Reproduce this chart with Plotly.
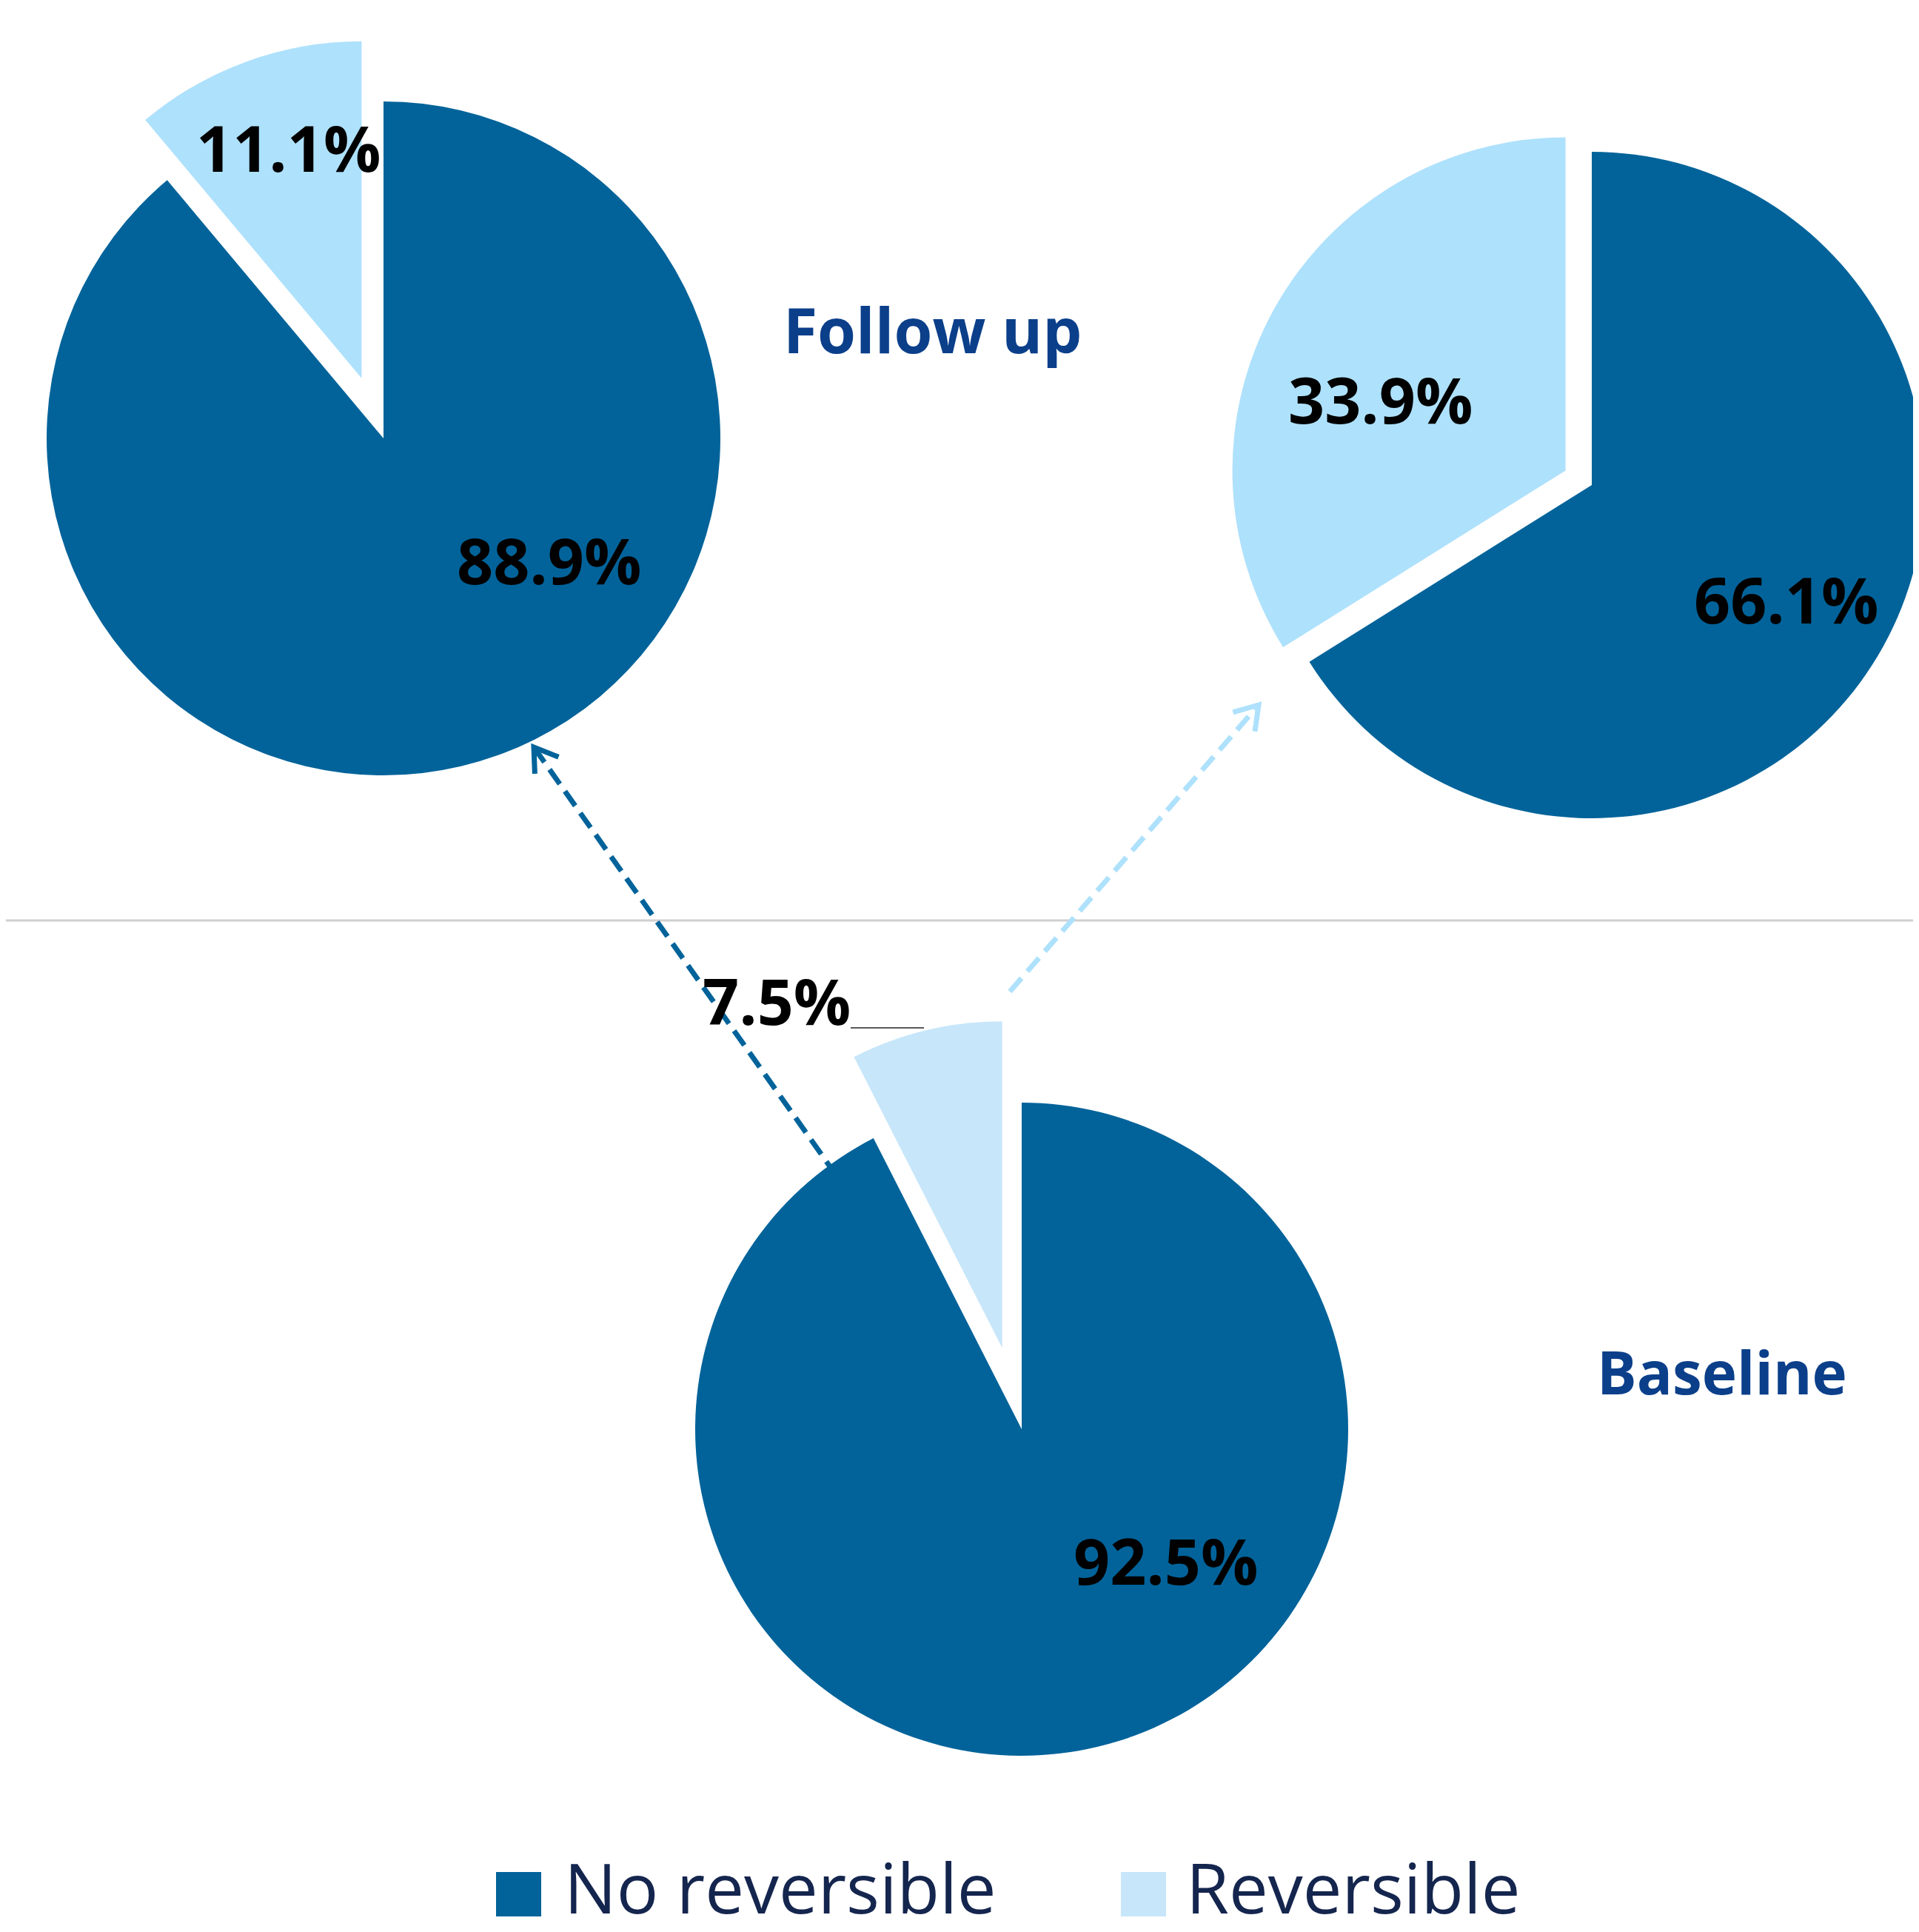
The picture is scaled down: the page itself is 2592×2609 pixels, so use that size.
import math
import plotly.graph_objects as go

# ---------------- data ----------------
labels = ["No reversible", "Reversible"]
baseline_values = [92.5, 7.5]
followup_from_noreversible = [88.9, 11.1]
followup_from_reversible = [66.1, 33.9]
panel_titles = ["Follow up", "Baseline"]

# ---------------- layout constants (pixels) ----------------
W, H = 2592, 2609
DARK = "#02639a"
LIGHT_FU = "#aee1fc"
LIGHT_BL = "#c7e6fa"
CLEAR = "rgba(0,0,0,0)"
TITLE_C = "#0b3f8a"
LEG_C = "#14254e"
PCT_FONT = dict(family="Open Sans", size=86, color="black", weight="bold")


def X(p):
    return p / W


def Y(p):
    return 1 - p / H


def domain(cx, cy, r):
    return dict(x=[max(0.0, X(cx - r)), min(1.0, X(cx + r))],
                y=[max(0.0, Y(cy + r)), min(1.0, Y(cy - r))])


# (values, (cx, cy, r, pull of reversible slice), light colour, label centres)
pies = [
    (followup_from_noreversible, (510, 584, 455, 0.19), LIGHT_FU,
     [(734, 748), (382, 190)]),
    (followup_from_reversible, (2142, 647, 450, 0.09), LIGHT_FU,
     [(2405, 800), (1857, 530)]),
    (baseline_values, (1372, 1922, 441, 0.256), LIGHT_BL,
     [(1567, 2098), (1041, 1342)]),
]

fig = go.Figure()
annotations = []
for values, (cx, cy, r, pull), light, lab_pos in pies:
    # main pie: the non-reversible slice stays in place
    fig.add_trace(go.Pie(
        labels=labels, values=values, sort=False, direction="clockwise",
        rotation=0, textinfo="none", hoverinfo="label+percent",
        marker=dict(colors=[DARK, CLEAR], line=dict(width=0)),
        domain=domain(cx, cy, r), showlegend=False,
    ))
    # exploded reversible slice: same pie shifted along the slice bisector
    f = values[1] / sum(values)
    off = pull * r
    lcx = cx - off * math.sin(math.pi * f)
    lcy = cy - off * math.cos(math.pi * f)
    fig.add_trace(go.Pie(
        labels=labels, values=values, sort=False, direction="clockwise",
        rotation=0, textinfo="none", hoverinfo="label+percent",
        marker=dict(colors=[CLEAR, light], line=dict(width=0)),
        domain=domain(lcx, lcy, r), showlegend=False,
    ))
    for v, (lx, ly) in zip(values, lab_pos):
        annotations.append(dict(
            x=X(lx), y=Y(ly), xref="paper", yref="paper", showarrow=False,
            text=f"{v:.1f}%", font=PCT_FONT, xanchor="center", yanchor="middle"))

# panel titles
annotations.append(dict(x=X(1251), y=Y(437), xref="paper", yref="paper", showarrow=False,
                        text=panel_titles[0], xanchor="center", yanchor="middle",
                        font=dict(family="Open Sans", size=84, color=TITLE_C, weight="bold")))
annotations.append(dict(x=X(2318), y=Y(1843), xref="paper", yref="paper", showarrow=False,
                        text=panel_titles[1], xanchor="center", yanchor="middle",
                        font=dict(family="Open Sans", size=80, color=TITLE_C, weight="bold")))

# custom legend (large squares)
legend_items = [(labels[0], DARK, 662, 752), (labels[1], LIGHT_BL, 1506, 1592)]
shapes = []
for name, col, sx, tx in legend_items:
    shapes.append(dict(type="rect", xref="paper", yref="paper",
                       x0=X(sx), x1=X(sx + 61), y0=Y(2580), y1=Y(2520),
                       fillcolor=col, line=dict(width=0), layer="above"))
    annotations.append(dict(x=X(tx), y=Y(2540), xref="paper", yref="paper", showarrow=False,
                            text=name, xanchor="left", yanchor="middle",
                            font=dict(family="Open Sans", size=94, color=LEG_C)))

# separator line
shapes.append(dict(type="line", xref="paper", yref="paper", x0=0, x1=1,
                   y0=Y(1235), y1=Y(1235), line=dict(color="#d0d0d0", width=3), layer="below"))

# leader line for the small baseline slice
shapes.append(dict(type="line", xref="paper", yref="paper", x0=X(1141), x1=X(1240),
                   y0=Y(1380), y1=Y(1380), line=dict(color="#595959", width=2), layer="above"))


def dashed_arrow(tail, tip, color):
    out = [dict(type="line", xref="paper", yref="paper",
                x0=X(tail[0]), y0=Y(tail[1]), x1=X(tip[0]), y1=Y(tip[1]),
                line=dict(color=color, width=7, dash="24px,12px"), layer="below")]
    dx, dy = tail[0] - tip[0], tail[1] - tip[1]
    L = math.hypot(dx, dy)
    ux, uy = dx / L, dy / L
    pts = []
    for a in (math.radians(33), math.radians(-33)):
        rx = ux * math.cos(a) - uy * math.sin(a)
        ry = ux * math.sin(a) + uy * math.cos(a)
        pts.append((tip[0] + 36 * rx, tip[1] + 36 * ry))
    path = (f"M {X(pts[0][0])},{Y(pts[0][1])} L {X(tip[0])},{Y(tip[1])} "
            f"L {X(pts[1][0])},{Y(pts[1][1])}")
    out.append(dict(type="path", xref="paper", yref="paper", path=path,
                    line=dict(color=color, width=7), layer="above"))
    return out


shapes += dashed_arrow((1122, 1580), (713, 1001), DARK)
shapes += dashed_arrow((1356, 1331), (1692, 944), "#aee1fc")

fig.update_layout(
    width=W, height=H, margin=dict(l=0, r=0, t=0, b=0),
    paper_bgcolor="white", plot_bgcolor="white",
    showlegend=False, annotations=annotations, shapes=shapes,
)

fig.write_html("out.html")
